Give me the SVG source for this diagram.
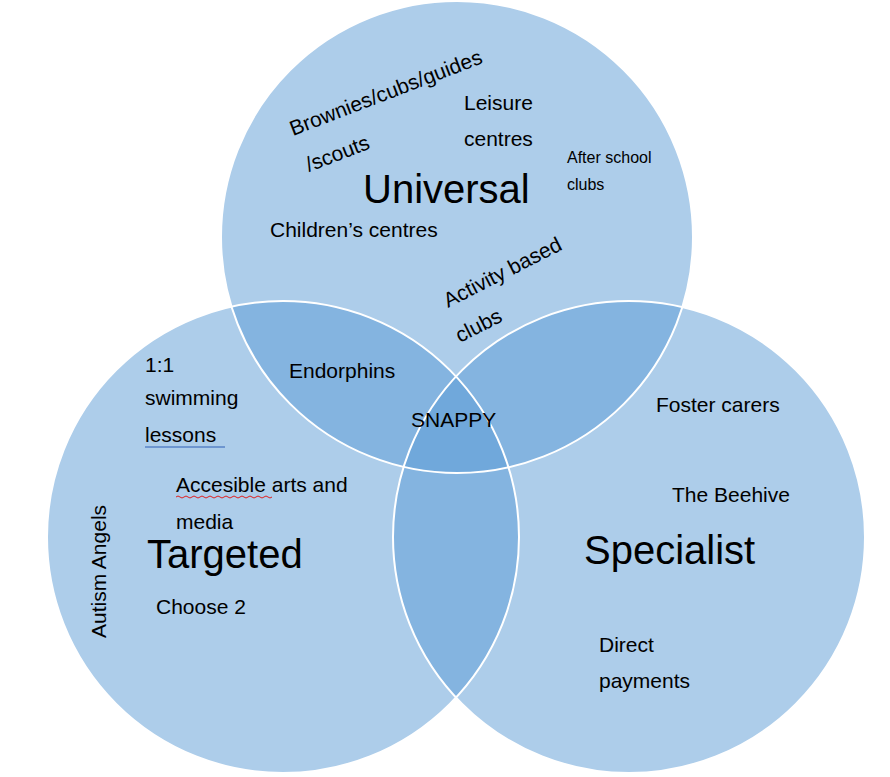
<svg xmlns="http://www.w3.org/2000/svg" width="890" height="777" viewBox="0 0 890 777">
<style>
.c{fill:#5b9bd5;fill-opacity:0.5}
.o{fill:none;stroke:#fff;stroke-width:2}
text{font-family:"Liberation Sans",Arial,sans-serif;fill:#000}
.m{font-size:21px}
.b{font-size:40px}
.s{font-size:16px}
</style>
<rect width="890" height="777" fill="#fff"/>
<g id="circles">
<circle id="universal" class="c" cx="457" cy="237" r="236"/>
<circle id="targeted" class="c" cx="283" cy="537" r="236"/>
<circle id="specialist" class="c" cx="629" cy="537" r="236"/>
</g>
<g id="outlines">
<circle class="o" cx="457" cy="237" r="236"/>
<circle class="o" cx="283" cy="537" r="236"/>
<circle class="o" cx="629" cy="537" r="236"/>
</g>
<g id="labels">
<text class="m" transform="translate(293,136) rotate(-21)">Brownies/cubs/guides</text>
<text class="m" transform="translate(309,172) rotate(-21)">/scouts</text>
<text class="m" x="464" y="110">Leisure</text>
<text class="m" x="464" y="146">centres</text>
<text class="s" x="567" y="163">After school</text>
<text class="s" x="567" y="190">clubs</text>
<text class="b" x="363" y="203">Universal</text>
<text class="m" x="270" y="237">Children’s centres</text>
<text class="m" transform="translate(448,308) rotate(-27)">Activity based</text>
<text class="m" transform="translate(460,343) rotate(-27)">clubs</text>
<text class="m" x="289" y="378">Endorphins</text>
<text class="m" x="145" y="372">1:1</text>
<text class="m" x="145" y="405">swimming</text>
<text class="m" x="145" y="442">lessons</text>
<line x1="145" y1="447" x2="225" y2="447" stroke="#2e5fb5" stroke-width="1"/>
<text class="m" x="411" y="427">SNAPPY</text>
<text class="m" x="656" y="412">Foster carers</text>
<text class="m" x="176" y="492">Accesible arts and</text>
<path d="M176 497 q2 -2 4 0 t4 0 t4 0 t4 0 t4 0 t4 0 t4 0 t4 0 t4 0 t4 0 t4 0 t4 0 t4 0 t4 0 t4 0 t4 0 t4 0 t4 0 t4 0 t4 0 t4 0 t4 0 t4 0 t4 0" fill="none" stroke="#e02020" stroke-width="1"/>
<text class="m" x="176" y="529">media</text>
<text class="m" x="672" y="502">The Beehive</text>
<text class="b" x="147" y="568">Targeted</text>
<text class="b" x="584" y="564">Specialist</text>
<text class="m" transform="translate(106,638) rotate(-90)">Autism Angels</text>
<text class="m" x="156" y="614">Choose 2</text>
<text class="m" x="599" y="652">Direct</text>
<text class="m" x="599" y="688">payments</text>
</g>
</svg>
